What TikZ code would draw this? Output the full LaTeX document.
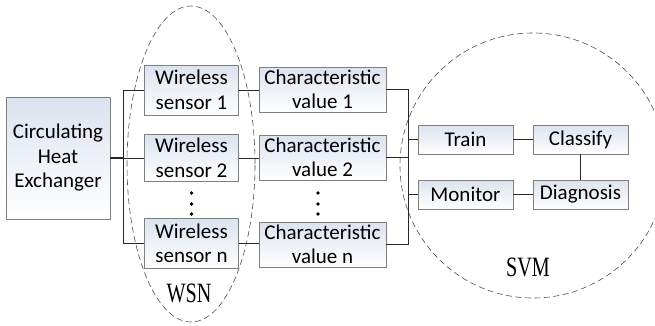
\documentclass[tikz,border=0pt]{standalone}
\usepackage{fontspec}
\setmainfont{Carlito}
\newfontfamily\labfont{Liberation Serif}
\usetikzlibrary{shapes.geometric}
\definecolor{boxtop}{HTML}{DCE3EF}
\definecolor{boxline}{HTML}{7F7F7F}
\begin{document}
\begin{tikzpicture}[x=1pt,y=-1pt,
  box/.style={draw=boxline,line width=0.8pt,top color=boxtop,bottom color=white,
    align=center,inner sep=0pt,font=\fontsize{21}{24.5}\selectfont},
  wire/.style={draw=black!85,line width=0.8pt},
  grp/.style={draw=black!70,dash pattern=on 6pt off 3.5pt,line width=0.6pt},
  lab/.style={font=\labfont\fontsize{28}{28}\selectfont}]
\useasboundingbox (0,0) rectangle (655,325);
\begin{scope}
\clip (0,0) rectangle (655,325);
% groups
\node[grp,ellipse,minimum width=128,minimum height=316,inner sep=0pt] (wsnE) at (191,164) {};
\node[grp,ellipse,minimum width=266,minimum height=265,inner sep=0pt] (svmE) at (533,165.5) {};
\end{scope}
\node[lab] (wsnL) at (189,293) {\scalebox{0.72}[1]{WSN}};
\node[lab] (svmL) at (528,267) {\scalebox{0.72}[1]{SVM}};
% boxes
\node[box,minimum width=94,minimum height=50] (ws1) at (191.5,90) {Wireless\\sensor 1};
\node[box,minimum width=104,minimum height=122] (che) at (58,158) {Circulating\\Heat\\Exchanger};
\node[box,minimum width=94,minimum height=47] (ws2) at (191.5,158) {Wireless\\sensor 2};
\node[box,minimum width=94,minimum height=50] (wsn) at (191.5,243.5) {Wireless\\sensor n};
\node[box,minimum width=127,minimum height=45] (cv1) at (322.5,89.5) {Characteristic\\value 1};
\node[box,minimum width=127,minimum height=45] (cv2) at (322.5,157.5) {Characteristic\\value 2};
\node[box,minimum width=127,minimum height=45] (cvn) at (322.5,244.5) {Characteristic\\value n};
\node[box,minimum width=95,minimum height=29] (train) at (465.5,139.5) {Train};
\node[box,minimum width=95,minimum height=29] (monitor) at (465.5,194.5) {Monitor};
\node[box,minimum width=95,minimum height=29] (classify) at (580.5,139.5) {Classify};
\node[box,minimum width=95,minimum height=29] (diag) at (580.5,194.5) {Diagnosis};
% dots
\foreach \xx in {191.5,318}{
  \foreach \yy in {193,204,214}{
    \fill (\xx,\yy) circle (1.8pt);}}
% bus coordinates
\coordinate (lb) at (123.5,0);
\coordinate (rb) at (408,0);
\draw[wire,line width=1.5pt] (che.east) -- (che.east -| lb);
\draw[wire] (lb |- ws1) -- (lb |- wsn);
\draw[wire] (lb |- ws1) -- (ws1.west);
\draw[wire] (lb |- ws2) -- (ws2.west);
\draw[wire] (lb |- wsn) -- (wsn.west);
\draw[wire] (ws1.east) -- (cv1.west |- ws1.east);
\draw[wire] (ws2.east) -- (cv2.west |- ws2.east);
\draw[wire] (wsn.east) -- (cvn.west |- wsn.east);
\draw[wire] (cv1.east) -- (rb |- cv1.east) -- (rb |- cvn.east) -- (cvn.east);
\draw[wire] (cv2.east) -- (rb |- cv2.east);
\draw[wire] (rb |- train) -- (train.west);
\draw[wire] (rb |- monitor) -- (monitor.west);
\draw[wire] (train) -- (classify);
\draw[wire] (monitor) -- (diag);
\draw[wire] (classify) -- (diag);
\end{tikzpicture}
\end{document}
